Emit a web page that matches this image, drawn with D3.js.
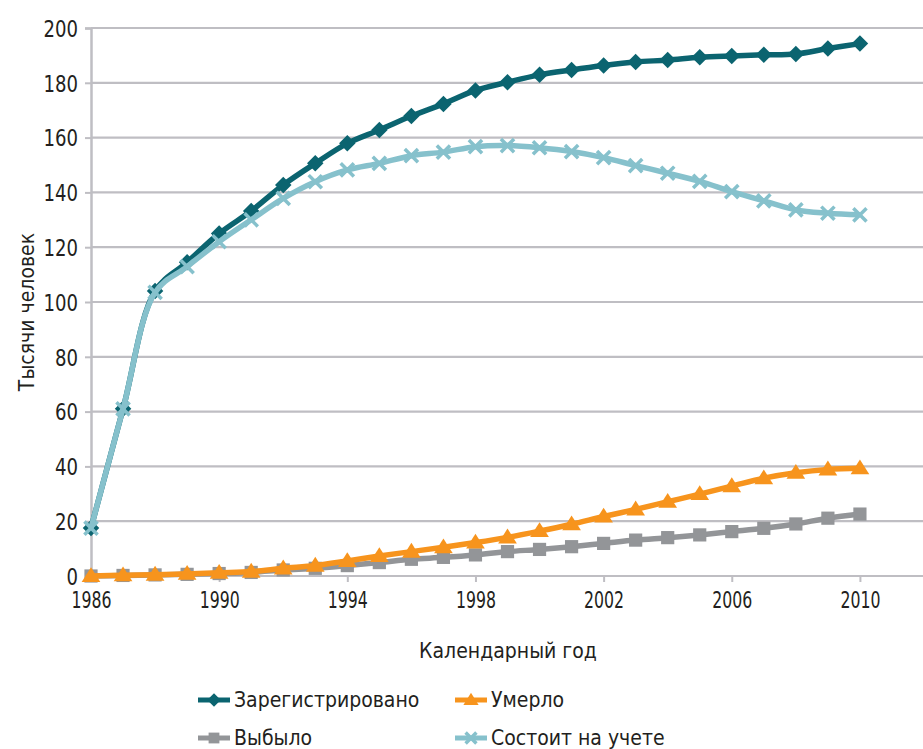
<!DOCTYPE html>
<html><head><meta charset="utf-8">
<script src="https://cdn.jsdelivr.net/npm/d3@7"></script>
<style>
body{margin:0;background:#fff;}
text{font-family:"DejaVu Sans Condensed","Liberation Sans Narrow","Roboto",sans-serif;fill:#231f20;}
</style></head><body>
<svg id="c" width="923" height="749"></svg>
<script>
const years = d3.range(1986, 2011);
const registered = [17.5,61,104,114.5,125,133.2,142.7,150.6,157.9,162.8,167.9,172.3,177.2,180.2,182.9,184.7,186.3,187.6,188.3,189.3,189.8,190.2,190.5,192.5,194.3];
const died = [0,0.3,0.5,0.8,1.2,1.6,2.8,3.8,5.5,7.3,8.9,10.5,12.2,14.1,16.4,18.9,21.7,24.3,27.1,29.9,32.8,35.7,37.7,38.9,39.3];
const dropped = [0,0.2,0.4,0.6,0.9,1.3,2.2,2.8,3.8,4.9,6.1,6.8,7.7,8.9,9.7,10.7,11.9,13.1,14,15,16.2,17.4,19,21.1,22.6];
const onRecord = [17.5,61,103.5,112.9,122,130,137.8,143.9,148.2,150.6,153.4,154.7,156.7,157.1,156.3,154.9,152.7,149.8,147,144,140.3,136.9,133.6,132.4,131.8];
const yTicks = [0,20,40,60,80,100,120,140,160,180,200];
const xTicks = [1986,1990,1994,1998,2002,2006,2010];
const seriesNames = ["Зарегистрировано","Умерло","Выбыло","Состоит на учете"];
const colors = ["#0b6470","#f7941d","#939598","#86c1cc"];
const yTitle = "Тысячи человек";
const xTitle = "Календарный год";

const svg = d3.select("#c");
const x = d3.scaleLinear().domain([1986, 2012]).range([91, 924]);
const y = d3.scaleLinear().domain([0, 200]).range([576, 28]);

// gridlines
svg.append("g").selectAll("line").data(yTicks).join("line")
  .attr("x1", 91).attr("x2", 923).attr("y1", d=>y(d)).attr("y2", d=>y(d))
  .attr("stroke", "#bfbec3").attr("stroke-width", 2.2);
// y axis
const ya = svg.append("g").attr("transform","translate(91,0)")
  .call(d3.axisLeft(y).tickValues(yTicks).tickSize(6).tickPadding(7));
ya.select(".domain").attr("stroke","#bfbec3").attr("stroke-width",2.5);
ya.selectAll(".tick line").attr("stroke","#bfbec3").attr("stroke-width",2);
ya.selectAll("text").attr("font-size",23).style("fill","#231f20").attr("dy","0.36em")
  .attr("textLength", d=>String(d).length*11.5).attr("lengthAdjust","spacingAndGlyphs");
// x axis
const xa = svg.append("g").attr("transform","translate(0,576)")
  .call(d3.axisBottom(x).tickValues(xTicks).tickFormat(d3.format("d")).tickSize(6).tickPadding(10));
xa.select(".domain").remove();
xa.selectAll(".tick line").attr("stroke","#bfbec3").attr("stroke-width",2);
xa.selectAll("text").attr("font-size",23).style("fill","#231f20")
  .attr("textLength", 40).attr("lengthAdjust","spacingAndGlyphs");

svg.append("text").attr("transform","translate(34,312) rotate(-90)")
  .attr("text-anchor","middle").attr("font-size",21).text(yTitle);
svg.append("text").attr("x",508).attr("y",658).attr("text-anchor","middle")
  .attr("font-size",21).text(xTitle);

const line = d3.line().x((d,i)=>x(years[i])).y(d=>y(d)).curve(d3.curveCatmullRom.alpha(0.5));

function marker(g, type, color, cx, cy, s) {
  if (type===0) g.append("path").attr("d",`M${cx},${cy-s*0.75}L${cx+s*0.75},${cy}L${cx},${cy+s*0.75}L${cx-s*0.75},${cy}Z`).attr("fill",color);
  else if (type===1) g.append("path").attr("d",`M${cx},${cy-s*0.8}L${cx+s*0.85},${cy+s*0.55}L${cx-s*0.85},${cy+s*0.55}Z`).attr("fill",color);
  else if (type===2) g.append("rect").attr("x",cx-s*0.6).attr("y",cy-s*0.6).attr("width",s*1.2).attr("height",s*1.2).attr("fill",color);
  else { const r=s*0.6; g.append("path").attr("d",`M${cx-r},${cy-r}L${cx+r},${cy+r}M${cx-r},${cy+r}L${cx+r},${cy-r}`).attr("stroke",color).attr("stroke-width",3.5); }
}

const data = [registered, died, dropped, onRecord];
const order = [0,2,1,3];
order.forEach(k=>{
  const g = svg.append("g");
  g.append("path").attr("d", line(data[k])).attr("fill","none").attr("stroke",colors[k]).attr("stroke-width",5.5).attr("stroke-linejoin","round");
  data[k].forEach((v,i)=>marker(g,k,colors[k],x(years[i]),y(v),11));
});

// legend
const leg = [[198,700],[455,700],[198,738],[455,738]];
seriesNames.forEach((n,k)=>{
  const g = svg.append("g");
  const [lx,ly] = leg[k];
  g.append("line").attr("x1",lx).attr("x2",lx+32).attr("y1",ly).attr("y2",ly).attr("stroke",colors[k]).attr("stroke-width",5);
  marker(g,k,colors[k],lx+16,ly,9);
  g.append("text").attr("x",lx+36).attr("y",ly).attr("dy","0.35em").attr("font-size",21).text(n);
});
</script></body></html>
